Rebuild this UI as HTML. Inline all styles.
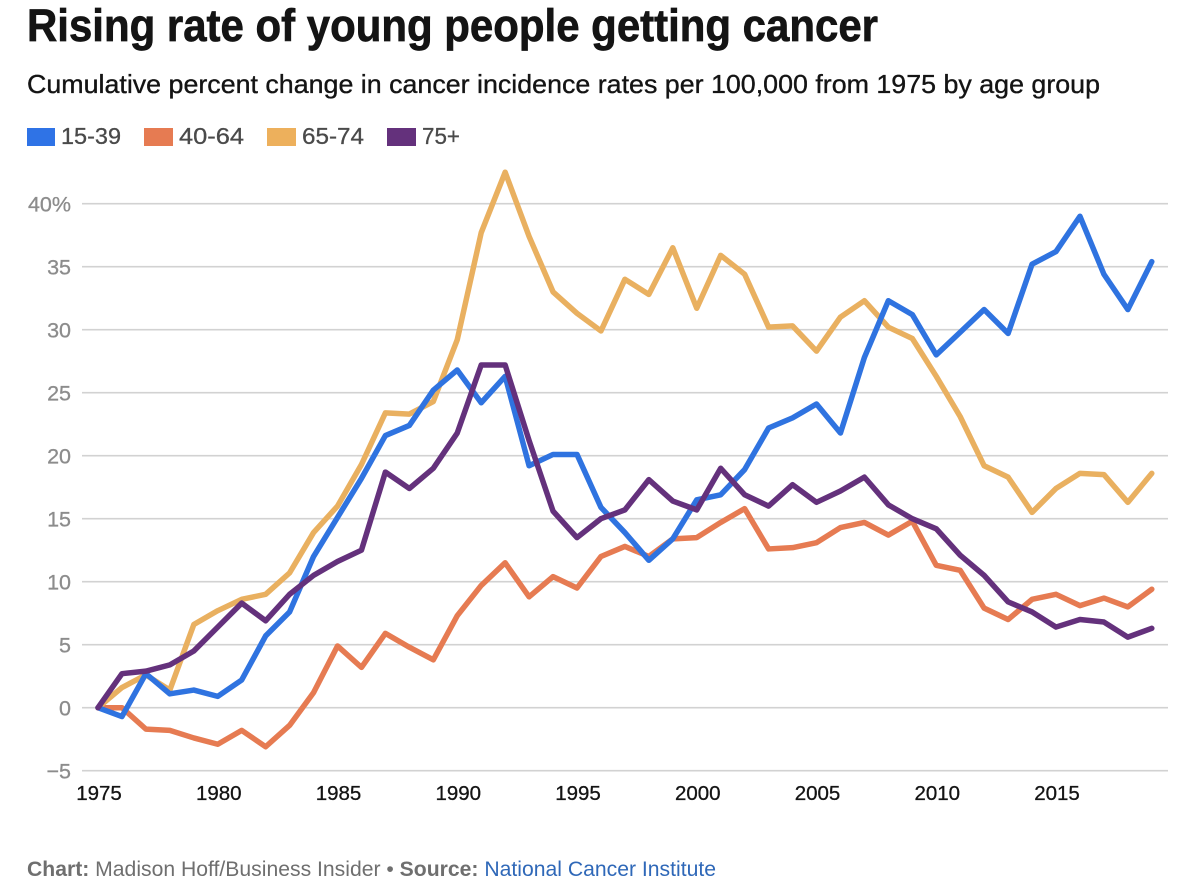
<!DOCTYPE html>
<html lang="en">
<head>
<meta charset="utf-8">
<title>Rising rate of young people getting cancer</title>
<style>
html,body{margin:0;padding:0;background:#fff;width:1200px;height:886px;overflow:hidden}
svg{display:block;font-family:"Liberation Sans",sans-serif}
</style>
</head>
<body>
<svg id="chart" xmlns="http://www.w3.org/2000/svg" width="1200" height="886" viewBox="0 0 1200 886">
  <rect width="1200" height="886" fill="#ffffff"/>
  <text x="27" y="41" font-size="45" font-weight="700" fill="#141414" stroke="#141414" stroke-width="0.7" textLength="851" lengthAdjust="spacingAndGlyphs">Rising rate of young people getting cancer</text>
  <text x="27" y="93" font-size="26" fill="#141414" stroke="#141414" stroke-width="0.35" textLength="1073" lengthAdjust="spacingAndGlyphs">Cumulative percent change in cancer incidence rates per 100,000 from 1975 by age group</text>

  <g>
    <rect x="27" y="128" width="28" height="18" fill="#2f73e6"/>
    <text x="61" y="144" font-size="23" fill="#4a4a4a" stroke="#4a4a4a" stroke-width="0.3" textLength="60" lengthAdjust="spacingAndGlyphs">15-39</text>
    <rect x="144" y="128" width="29" height="18" fill="#e67b52"/>
    <text x="179" y="144" font-size="23" fill="#4a4a4a" stroke="#4a4a4a" stroke-width="0.3" textLength="65" lengthAdjust="spacingAndGlyphs">40-64</text>
    <rect x="267" y="128" width="29" height="18" fill="#edb05c"/>
    <text x="302" y="144" font-size="23" fill="#4a4a4a" stroke="#4a4a4a" stroke-width="0.3" textLength="62" lengthAdjust="spacingAndGlyphs">65-74</text>
    <rect x="387" y="128" width="29" height="18" fill="#64317c"/>
    <text x="422" y="144" font-size="23" fill="#4a4a4a" stroke="#4a4a4a" stroke-width="0.3" textLength="38" lengthAdjust="spacingAndGlyphs">75+</text>
  </g>

  <g id="grid"></g>
  <g id="xticks"></g>
  <g id="series"></g>

  <text x="27" y="876" font-size="21" fill="#6f6f6f" textLength="689" lengthAdjust="spacingAndGlyphs"><tspan font-weight="700">Chart:</tspan> Madison Hoff/Business Insider • <tspan font-weight="700">Source:</tspan> <tspan fill="#2f68b8">National Cancer Institute</tspan></text>
</svg>
<script>
const years = [1975,1976,1977,1978,1979,1980,1981,1982,1983,1984,1985,1986,1987,1988,1989,1990,1991,1992,1993,1994,1995,1996,1997,1998,1999,2000,2001,2002,2003,2004,2005,2006,2007,2008,2009,2010,2011,2012,2013,2014,2015,2016,2017,2018,2019];
const age15to39 = [0,-0.7,2.7,1.1,1.4,0.9,2.2,5.7,7.6,12,15.1,18.2,21.6,22.4,25.2,26.8,24.2,26.3,19.2,20.1,20.1,15.9,13.9,11.7,13.4,16.5,16.9,18.9,22.2,23,24.1,21.8,27.8,32.3,31.2,28,29.8,31.6,29.7,35.2,36.2,39,34.4,31.6,35.4];
const age40to64 = [0,0,-1.7,-1.8,-2.4,-2.9,-1.8,-3.1,-1.4,1.2,4.9,3.2,5.9,4.8,3.8,7.3,9.7,11.5,8.8,10.4,9.5,12,12.8,12,13.4,13.5,14.7,15.8,12.6,12.7,13.1,14.3,14.7,13.7,14.8,11.3,10.9,7.9,7,8.6,9,8.1,8.7,8,9.4];
const age65to74 = [0,1.6,2.6,1.4,6.6,7.7,8.6,9,10.7,13.9,16,19.3,23.4,23.3,24.3,29.2,37.7,42.5,37.4,33,31.3,29.9,34,32.8,36.5,31.7,35.9,34.4,30.2,30.3,28.3,31,32.3,30.2,29.3,26.3,23.1,19.2,18.3,15.5,17.4,18.6,18.5,16.3,18.6];
const age75plus = [0,2.7,2.9,3.4,4.5,6.4,8.3,6.9,9,10.5,11.6,12.5,18.7,17.4,19,21.8,27.2,27.2,21.2,15.6,13.5,15,15.7,18.1,16.4,15.7,19,16.9,16,17.7,16.3,17.2,18.3,16.1,15,14.2,12.1,10.5,8.4,7.6,6.4,7,6.8,5.6,6.3];
const yTicks = [-5,0,5,10,15,20,25,30,35,40];
const xTicks = [1975,1980,1985,1990,1995,2000,2005,2010,2015];

const NS = 'http://www.w3.org/2000/svg';
function xScale(year) { return 98 + (year - 1975) * 23.95; }
function yScale(value) { return 707.7 - value * 12.6; }
function yLabel(v) {
  if (v === 40) return '40%';
  if (v < 0) return '\u2212' + Math.abs(v);
  return String(v);
}

const gridGroup = document.getElementById('grid');


yTicks.forEach(function (v) {
  const line = document.createElementNS(NS, 'line');
  line.setAttribute('x1', 82);
  line.setAttribute('x2', 1168);
  line.setAttribute('y1', yScale(v));
  line.setAttribute('y2', yScale(v));
  line.setAttribute('stroke', '#d2d2d2');
  line.setAttribute('stroke-width', 1.6);
  
  
  gridGroup.appendChild(line);
  const label = document.createElementNS(NS, 'text');
  label.setAttribute('x', 71);
  label.setAttribute('y', yScale(v) + 8);
  label.setAttribute('text-anchor', 'end');
  label.setAttribute('font-size', 21.5);
  label.setAttribute('fill', '#8c8c8c');
  label.setAttribute('stroke', '#8c8c8c');
  label.setAttribute('stroke-width', 0.3);
  
  
  label.textContent = yLabel(v);
  gridGroup.appendChild(label);
});

const xGroup = document.getElementById('xticks');


xTicks.forEach(function (year) {
  const label = document.createElementNS(NS, 'text');
  label.setAttribute('x', xScale(year) + 1);
  label.setAttribute('y', 800);
  label.setAttribute('text-anchor', 'middle');
  label.setAttribute('font-size', 20.5);
  label.setAttribute('fill', '#141414');
  label.setAttribute('stroke', '#141414');
  label.setAttribute('stroke-width', 0.3);
  
  
  label.textContent = year;
  xGroup.appendChild(label);
});

function drawSeries(values, color, name) {
  const path = document.createElementNS(NS, 'path');
  const d = values.map(function (v, i) {
    return (i ? 'L' : 'M') + xScale(years[i]).toFixed(2) + ' ' + yScale(v).toFixed(2);
  }).join(' ');
  path.setAttribute('d', d);
  path.setAttribute('fill', 'none');
  path.setAttribute('stroke', color);
  path.setAttribute('stroke-width', 5.5);
  path.setAttribute('stroke-linejoin', 'round');
  path.setAttribute('stroke-linecap', 'round');
  
  
  document.getElementById('series').appendChild(path);
}
drawSeries(age40to64, '#e67b52', 'line-40-64');
drawSeries(age65to74, '#e9b060', 'line-65-74');
drawSeries(age15to39, '#2f73e0', 'line-15-39');
drawSeries(age75plus, '#64317c', 'line-75-plus');
</script>
</body>
</html>
